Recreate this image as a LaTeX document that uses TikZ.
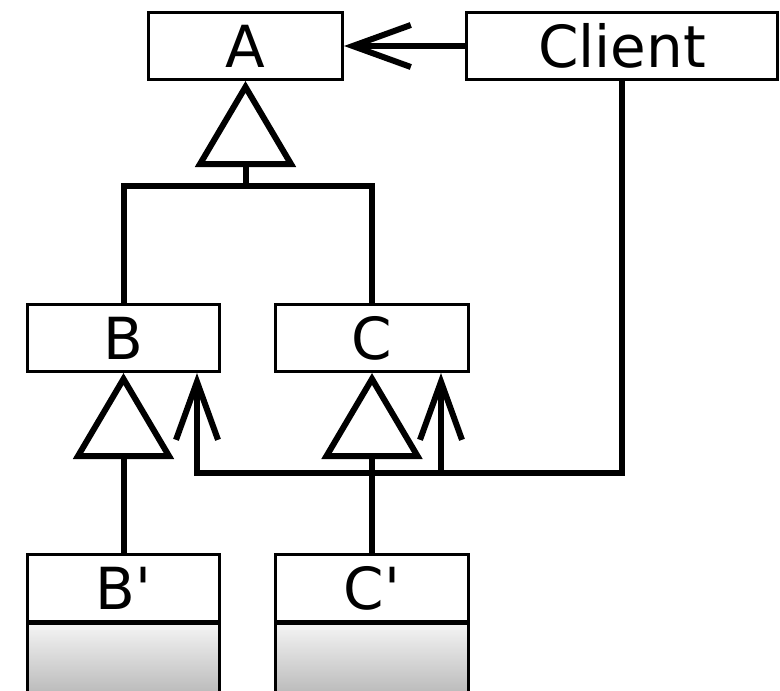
\documentclass[tikz,border=0pt]{standalone}
\usepackage{fontspec}
\setmainfont{DejaVu Sans}
\usetikzlibrary{arrows.meta}
\pgfdeclareverticalshading{compgrad}{100bp}{color(0bp)=(black!30); color(25bp)=(black!30); color(75bp)=(black!4); color(100bp)=(black!4)}
\begin{document}
\begin{tikzpicture}[x=1pt,y=-1pt,
  cls/.style={draw, line width=3pt, inner sep=0pt, minimum height=67pt,
    font=\fontsize{58}{60}\selectfont, text height=42pt, text depth=0pt},
  lower/.style={draw, line width=3pt, inner sep=0pt, minimum height=80pt, anchor=north, shading=compgrad},
  conn/.style={line width=6pt},
  inh/.style={conn, -{Triangle[open, length=86pt, width=100pt]}},
  dep/.style={conn, -{Straight Barb[length=58pt, width=42pt]}}]
\useasboundingbox (0,0) rectangle (780,691);
\begin{scope}
\clip (0,0) rectangle (780,691);
\node[lower, minimum width=192pt] (Bl) at (123.5,621.5) {};
\node[lower, minimum width=193pt] (Cl) at (372,621.5) {};
\end{scope}
\node[cls, minimum width=194pt] (A) at (245.5,46) {A};
\node[cls, minimum width=311pt] (Client) at (622,46) {Client};
\node[cls, minimum width=192pt] (B) at (123.5,338) {B};
\node[cls, minimum width=193pt] (C) at (372,338) {C};
\node[cls, minimum width=192pt] (Bp) at (123.5,588) {B\textquotesingle};
\node[cls, minimum width=193pt] (Cp) at (372,588) {C\textquotesingle};
\coordinate (jA) at (245.5,186);
\coordinate (kB) at (197,473);
\coordinate (kC) at (441,473);
\draw[inh] (jA) -- (A.south);
\draw[conn] (B.north) |- (jA) -| (C.north);
\draw[inh] (Bp.north) -- (B.south);
\draw[inh] (Cp.north) -- (C.south);
\draw[dep] (Client.west) -- (A.east);
\draw[dep] (Client.south) |- (kB) -- (kB |- B.south);
\draw[dep] (kC) -- (kC |- C.south);
\end{tikzpicture}
\end{document}
